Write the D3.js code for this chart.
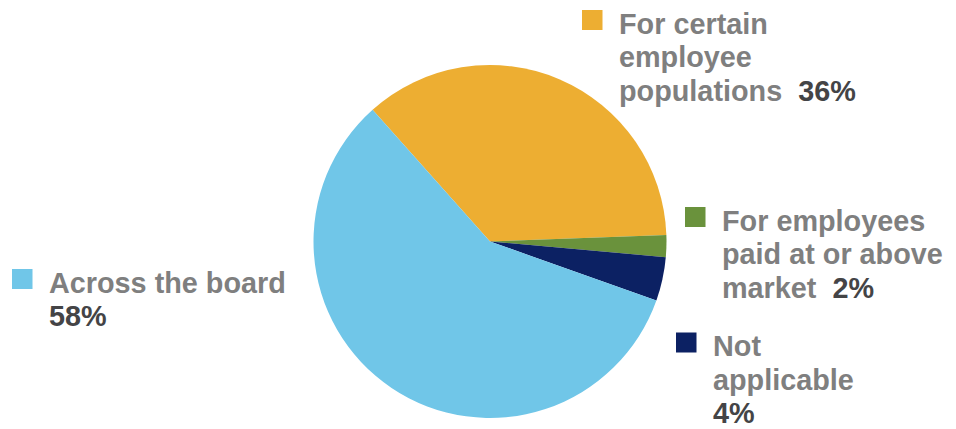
<!DOCTYPE html>
<html>
<head>
<meta charset="utf-8">
<script src="https://cdn.jsdelivr.net/npm/d3@7"></script>
<style>
  html, body { margin: 0; padding: 0; background: #fff; }
  svg { display: block; }
</style>
</head>
<body>
<svg id="chart" width="956" height="429"></svg>
<script>
// ---- data ----
const categories = [
  "For certain employee populations",
  "For employees paid at or above market",
  "Not applicable",
  "Across the board"
];
const values = [36, 2, 4, 58];
const percentLabels = ["36%", "2%", "4%", "58%"];
const labelLines = [
  ["For certain", "employee", "populations"],
  ["For employees", "paid at or above", "market"],
  ["Not", "applicable"],
  ["Across the board"]
];
const percentOnNewLine = [false, false, true, true];
const colors = ["#EDAE32", "#6A923C", "#0C2163", "#70C6E8"];

// ---- layout ----
const svg = d3.select("#chart");
const cx = 490, cy = 241.5, radius = 176.5;
const startDeg = -41.7;
const labelPos = [
  { x: 619, y: 33.5 },
  { x: 722, y: 230.5 },
  { x: 713, y: 356 },
  { x: 49, y: 292.5 }
];
const lineH = 33.5;

const pie = d3.pie()
  .sort(null)
  .value(d => d)
  .startAngle(startDeg * Math.PI / 180)
  .endAngle(startDeg * Math.PI / 180 + 2 * Math.PI);
const arc = d3.arc().innerRadius(0).outerRadius(radius);

const g = svg.append("g").attr("transform", `translate(${cx},${cy})`);
g.selectAll("path")
  .data(pie(values))
  .join("path")
  .attr("d", arc)
  .attr("fill", (d, i) => colors[i]);

// ---- labels ----
const font = "'Liberation Sans', Arial, sans-serif";
categories.forEach((c, i) => {
  const p = labelPos[i];
  svg.append("rect")
    .attr("x", p.x - 37)
    .attr("y", p.y - 23.5)
    .attr("width", 20.5)
    .attr("height", 20)
    .attr("fill", colors[i]);
  const t = svg.append("text")
    .attr("x", p.x)
    .attr("y", p.y)
    .attr("font-family", font)
    .attr("font-weight", "bold")
    .attr("font-size", 28.8)
    .attr("fill", "#7F7F7F");
  const lines = labelLines[i];
  lines.forEach((ln, j) => {
    t.append("tspan")
      .attr("x", p.x)
      .attr("dy", j === 0 ? 0 : lineH)
      .text(ln);
  });
  if (percentOnNewLine[i]) {
    t.append("tspan")
      .attr("x", p.x)
      .attr("dy", lineH)
      .attr("fill", "#444446")
      .text(percentLabels[i]);
  } else {
    t.append("tspan")
      .attr("dx", 16)
      .attr("fill", "#444446")
      .text(percentLabels[i]);
  }
});
</script>
</body>
</html>
